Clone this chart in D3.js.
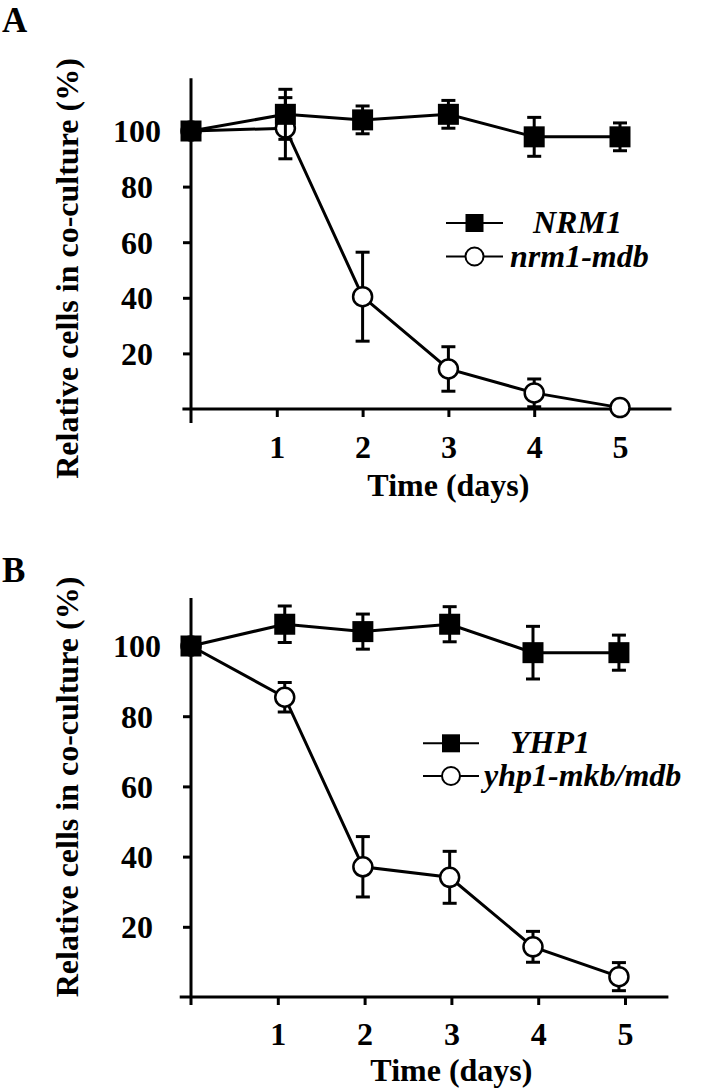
<!DOCTYPE html>
<html><head><meta charset="utf-8">
<script src="https://cdn.jsdelivr.net/npm/d3@7"></script>
<style>
body{margin:0;background:#fff}
svg{display:block}
text{font-family:"Liberation Serif","Times New Roman",serif;font-weight:bold;fill:#000}
</style>
</head><body>
<svg id="c" width="717" height="1092"></svg>
<script>
// ---- data ----
const tickDays = [1, 2, 3, 4, 5];
const yTickValues = [20, 40, 60, 80, 100];
const xTitle = "Time (days)";
const yTitle = "Relative cells in co-culture (%)";

// Panel A (time of each measurement as plotted)
const timesA = [0, 1.1, 2, 3, 4, 5];
const seriesA_wt = "NRM1";
const valuesA_wt = [100, 106.0, 104.0, 106.0, 97.9, 97.9];
const errA_wt    = [0, 9, 5, 5, 7, 5];
const seriesA_mut = "nrm1-mdb";
const valuesA_mut = [100, 101.0, 40.4, 14.4, 5.8, 0.5];
const errA_mut    = [0, 11, 16, 8, 5, 0];

// Panel B
const timesB = [0, 1.08, 1.98, 2.98, 3.94, 4.93];
const seriesB_wt = "YHP1";
const valuesB_wt = [100, 106.2, 104.1, 106.2, 98.1, 98.1];
const errB_wt    = [0, 5.2, 5, 5, 7.5, 5];
const seriesB_mut = "yhp1-mkb/mdb";
const valuesB_mut = [100, 85.4, 37.1, 34.1, 14.3, 5.8];
const errB_mut    = [0, 4.2, 8.6, 7.4, 4.4, 4];

// ---- layout ----
const svg = d3.select("#c");
const panels = [
  { label: "A", labelY: 32,
    x0: 191, x5: 620, y0: 409, y100: 131, yTop: 119, yBottom: -5,
    xAxisFrom: -0.1, xAxisTo: 5.6, tickLabelY: 458, xTitleY: 496, yTitleCY: 268.5,
    t: timesA,
    wt: { name: seriesA_wt, v: valuesA_wt, e: errA_wt },
    mut: { name: seriesA_mut, v: valuesA_mut, e: errA_mut },
    leg: { lineX1: 446, lineX2: 503, mx: 474.5, y1: 223, y2: 256.5, t1x: 533, t2x: 510 } },
  { label: "B", labelY: 582,
    x0: 191, x5: 625, y0: 997, y100: 646, yTop: 113.7, yBottom: -2.3,
    xAxisFrom: -0.13, xAxisTo: 5.5, tickLabelY: 1045, xTitleY: 1081, yTitleCY: 787,
    t: timesB,
    wt: { name: seriesB_wt, v: valuesB_wt, e: errB_wt },
    mut: { name: seriesB_mut, v: valuesB_mut, e: errB_mut },
    leg: { lineX1: 423, lineX2: 479, mx: 451, y1: 743.3, y2: 776, t1x: 510, t2x: 484 } }
];

panels.forEach(p => {
  const x = d3.scaleLinear().domain([0, 5]).range([p.x0, p.x5]);
  const y = d3.scaleLinear().domain([0, 100]).range([p.y0, p.y100]);
  const g = svg.append("g");

  // panel letter
  g.append("text").attr("x", 2).attr("y", p.labelY)
    .attr("font-size", 35).text(p.label);

  // x axis line (extends past the plotting area)
  g.append("line")
    .attr("x1", x(p.xAxisFrom)).attr("x2", x(p.xAxisTo))
    .attr("y1", y(0)).attr("y2", y(0))
    .attr("stroke", "#000").attr("stroke-width", 3);
  // y axis line
  g.append("line")
    .attr("x1", x(0)).attr("x2", x(0))
    .attr("y1", y(p.yTop)).attr("y2", y(p.yBottom))
    .attr("stroke", "#000").attr("stroke-width", 3);

  // x axis ticks & labels
  const xa = g.append("g").attr("transform", `translate(0,${y(0)})`)
    .call(d3.axisBottom(x).tickValues(tickDays).tickSize(8).tickSizeOuter(0).tickFormat(d3.format("d")));
  xa.select(".domain").remove();
  xa.selectAll(".tick line").attr("stroke", "#000").attr("stroke-width", 3);
  xa.selectAll(".tick text").attr("font-size", 32).attr("font-family", null)
    .attr("y", p.tickLabelY - y(0)).attr("dy", null).attr("fill", "#000");

  // y axis ticks & labels
  const ya = g.append("g").attr("transform", `translate(${x(0)},0)`)
    .call(d3.axisLeft(y).tickValues(yTickValues).tickSize(8).tickSizeOuter(0));
  ya.select(".domain").remove();
  ya.selectAll(".tick line").attr("stroke", "#000").attr("stroke-width", 3);
  ya.selectAll(".tick text").attr("font-size", 32).attr("font-family", null)
    .attr("text-anchor", "middle").attr("x", -54).attr("dy", "0.34em").attr("fill", "#000");

  // titles
  g.append("text").attr("x", (x(1) + x(5)) / 2).attr("y", p.xTitleY)
    .attr("text-anchor", "middle").attr("font-size", 32).text(xTitle);
  g.append("text").attr("transform", `translate(78,${p.yTitleCY}) rotate(-90)`)
    .attr("text-anchor", "middle").attr("font-size", 32).text(yTitle);

  const line = d3.line().x((d, i) => x(p.t[i])).y(d => y(d));

  function drawSeries(s, marker) {
    g.append("path").datum(s.v).attr("d", line)
      .attr("fill", "none").attr("stroke", "#000").attr("stroke-width", 3);
    const eb = g.append("g");
    s.v.forEach((v, i) => {
      if (!s.e[i]) return;
      const cx = x(p.t[i]);
      eb.append("line").attr("x1", cx).attr("x2", cx)
        .attr("y1", y(v + s.e[i])).attr("y2", y(v - s.e[i]))
        .attr("stroke", "#000").attr("stroke-width", 3);
      [v + s.e[i], v - s.e[i]].forEach(t => {
        eb.append("line").attr("x1", cx - 7).attr("x2", cx + 7)
          .attr("y1", y(t)).attr("y2", y(t))
          .attr("stroke", "#000").attr("stroke-width", 3);
      });
    });
    if (marker === "square") {
      g.selectAll(null).data(s.v).enter().append("rect")
        .attr("x", (d, i) => x(p.t[i]) - 10.5).attr("y", d => y(d) - 10.5)
        .attr("width", 21).attr("height", 21).attr("fill", "#000");
    } else {
      g.selectAll(null).data(s.v).enter().append("circle")
        .attr("cx", (d, i) => x(p.t[i])).attr("cy", d => y(d))
        .attr("r", 9.5).attr("fill", "#fff").attr("stroke", "#000").attr("stroke-width", 2.5);
    }
  }
  drawSeries(p.mut, "circle");
  drawSeries(p.wt, "square");

  // legend
  const L = p.leg;
  const lg = g.append("g");
  [[L.y1, "square", p.wt.name, L.t1x], [L.y2, "circle", p.mut.name, L.t2x]].forEach(([ly, m, name, tx]) => {
    lg.append("line").attr("x1", L.lineX1).attr("x2", L.lineX2).attr("y1", ly).attr("y2", ly)
      .attr("stroke", "#000").attr("stroke-width", 2);
    if (m === "square") {
      lg.append("rect").attr("x", L.mx - 9).attr("y", ly - 9).attr("width", 18).attr("height", 18).attr("fill", "#000");
    } else {
      lg.append("circle").attr("cx", L.mx).attr("cy", ly).attr("r", 9)
        .attr("fill", "#fff").attr("stroke", "#000").attr("stroke-width", 2);
    }
    lg.append("text").attr("x", tx).attr("y", ly + 10).attr("font-size", 32)
      .attr("font-style", "italic").text(name);
  });
});
</script>
</body></html>
